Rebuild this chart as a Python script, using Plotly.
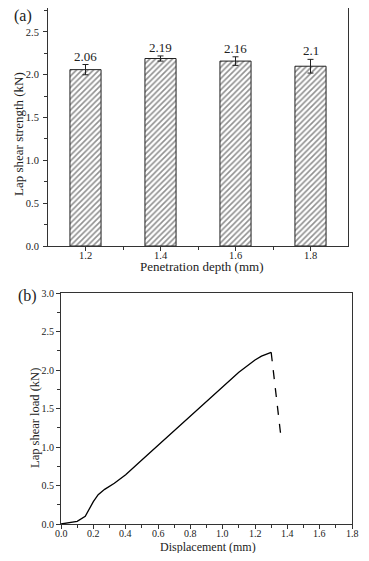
import plotly.graph_objects as go

# Panel (a) data
depth = [1.2, 1.4, 1.6, 1.8]
strength = [2.06, 2.19, 2.16, 2.10]
strength_err = [0.06, 0.03, 0.05, 0.08]
strength_labels = ["2.06", "2.19", "2.16", "2.1"]
depth_ticks = ["1.2", "1.4", "1.6", "1.8"]

# Panel (b) data
disp = [0.0, 0.05, 0.1, 0.15, 0.2, 0.23, 0.27, 0.33, 0.4, 0.5, 0.6, 0.7, 0.8, 0.9, 1.0, 1.1, 1.2, 1.24, 1.3]
load = [0.0, 0.02, 0.035, 0.1, 0.29, 0.38, 0.45, 0.53, 0.64, 0.83, 1.02, 1.22, 1.41, 1.6, 1.79, 1.97, 2.13, 2.18, 2.23]
drop_disp = [1.3, 1.36]
drop_load = [2.23, 1.14]
disp_ticks = [0.0, 0.2, 0.4, 0.6, 0.8, 1.0, 1.2, 1.4, 1.6, 1.8]

FONT = "Liberation Serif, 'Times New Roman', Times, serif"
AX = "#333333"
TXT = "#222222"
PAD = 8  # page body margin
W, H = 369 - 2 * PAD, 561 - 2 * PAD


def px(x):
    return min(1.0, max(0.0, (x - PAD) / W))


def py(y):
    return min(1.0, max(0.0, 1 - (y - PAD) / H))


fig = go.Figure()

fig.add_trace(go.Bar(
    x=depth, y=strength, width=0.083,
    marker=dict(color="white", line=dict(color="#222", width=1),
                pattern=dict(shape="/", fgcolor="#222", bgcolor="white", size=4, solidity=0.4)),
    error_y=dict(type="data", array=strength_err, color="#222", thickness=1, width=3),
    xaxis="x", yaxis="y", showlegend=False,
))

fig.add_trace(go.Scatter(x=disp, y=load, mode="lines", line=dict(color="black", width=1.3),
                         xaxis="x2", yaxis="y2", showlegend=False))
fig.add_trace(go.Scatter(x=drop_disp, y=drop_load, mode="lines",
                         line=dict(color="black", width=1.3, dash="dash"),
                         xaxis="x2", yaxis="y2", showlegend=False))

annotations = []
for xv, yv, e, t in zip(depth, strength, strength_err, strength_labels):
    annotations.append(dict(x=xv, y=yv + e, xref="x", yref="y", text=t, showarrow=False,
                            yanchor="bottom", yshift=-1, font=dict(family=FONT, size=13, color=TXT)))

# x tick labels placed close to the axis (as in the reference)
for xv, t in zip(depth, depth_ticks):
    annotations.append(dict(x=xv, y=py(255), xref="x", yref="paper", text=t, showarrow=False,
                            yanchor="middle", font=dict(family=FONT, size=10.5, color=TXT)))
for xv in disp_ticks:
    annotations.append(dict(x=xv, y=py(533.5), xref="x2", yref="paper", text=f"{xv:.1f}",
                            showarrow=False, yanchor="middle",
                            font=dict(family=FONT, size=10, color=TXT)))


def label(text, x, y, size=13, angle=0):
    annotations.append(dict(x=px(x), y=py(y), xref="paper", yref="paper", text=text,
                            showarrow=False, textangle=angle, xanchor="center", yanchor="middle",
                            font=dict(family=FONT, size=size, color=TXT)))


label("(a)", 23, 16, size=16)
label("(b)", 27, 296, size=16)
label("Penetration depth (mm)", 201, 266, size=13)
label("Displacement (mm)", 208, 546.5, size=12)
label("Lap shear strength (kN)", 18, 134, size=13, angle=-90)
label("Lap shear load (kN)", 35, 418, size=12.5, angle=-90)

axis_common = dict(showline=True, linecolor=AX, linewidth=1, mirror=True, ticks="outside",
                   ticklen=4, tickcolor=AX, showgrid=False, zeroline=False, automargin=False)
f_top = dict(family=FONT, size=10.5, color=TXT)
f_bot = dict(family=FONT, size=10, color=TXT)

fig.update_layout(
    width=W, height=H, margin=dict(l=0, r=0, t=0, b=0, autoexpand=False),
    paper_bgcolor="white", plot_bgcolor="white",
    annotations=annotations,
    xaxis=dict(**axis_common, domain=[px(48), px(348)], range=[1.1, 1.9],
               tickvals=depth, showticklabels=False,
               minor=dict(tickvals=[1.3, 1.5, 1.7], ticks="outside", ticklen=3, tickcolor=AX),
               anchor="y"),
    yaxis=dict(**axis_common, domain=[py(246), py(8)], range=[0, 2.78], tickfont=f_top,
               tickvals=[0, 0.5, 1.0, 1.5, 2.0, 2.5], tickformat=".1f", ticklabelstandoff=2,
               minor=dict(dtick=0.25, ticks="outside", ticklen=3, tickcolor=AX),
               anchor="x"),
    xaxis2=dict(**axis_common, domain=[px(61), px(352)], range=[0, 1.8], tickvals=disp_ticks,
                showticklabels=False,
                minor=dict(dtick=0.1, ticks="outside", ticklen=3, tickcolor=AX),
                anchor="y2"),
    yaxis2=dict(**axis_common, domain=[py(524), py(293)], range=[0, 3.0], dtick=0.5,
                tickformat=".1f", tickfont=f_bot,
                minor=dict(dtick=0.25, ticks="outside", ticklen=3, tickcolor=AX),
                anchor="x2"),
)

fig.write_html("out.html")
